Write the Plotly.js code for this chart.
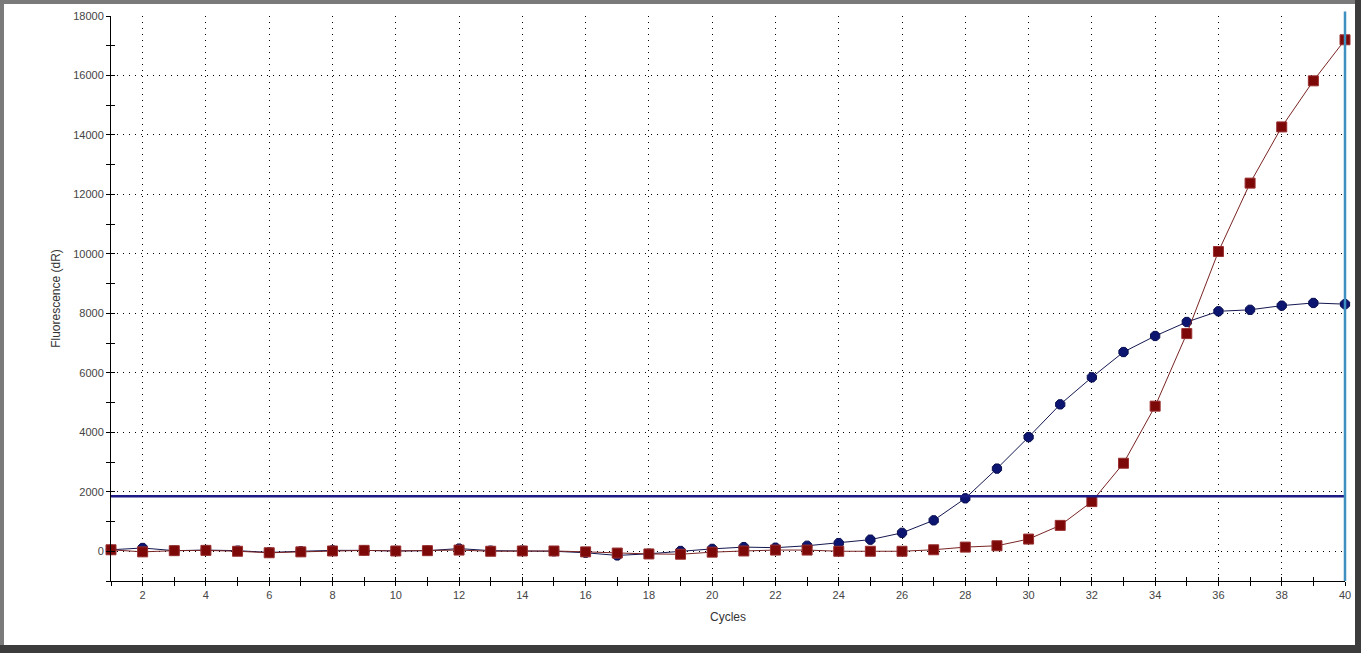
<!DOCTYPE html>
<html>
<head>
<meta charset="utf-8">
<script src="https://cdn.plot.ly/plotly-3.0.1.min.js"></script>
<style>
html,body{margin:0;padding:0;background:#7a7a7a;width:1361px;height:653px;overflow:hidden;}
#frame{position:absolute;left:0;top:0;width:1361px;height:653px;background:#3c3c3c;}
#frame:before{content:"";position:absolute;left:0;top:0;width:1355px;height:645px;background:#7a7a7a;}
#chart{position:absolute;left:4px;top:4px;width:1351px;height:641px;background:#fff;}
</style>
</head>
<body>
<div id="frame"></div>
<div id="chart"></div>
<script>
const cycles = [1,2,3,4,5,6,7,8,9,10,11,12,13,14,15,16,17,18,19,20,21,22,23,24,25,26,27,28,29,30,31,32,33,34,35,36,37,38,39,40];
const sampleBlue = [50,110,20,40,20,-40,0,30,30,10,20,90,20,20,0,-50,-140,-85,10,80,140,120,185,275,390,620,1040,1780,2780,3840,4940,5850,6700,7240,7710,8070,8120,8260,8350,8310];
const sampleRed = [50,-20,20,30,0,-50,-20,10,30,10,20,40,0,10,10,-20,-60,-90,-100,-30,10,40,40,0,0,0,50,140,185,410,870,1670,2960,4880,7320,10080,12380,14270,15820,17200];
const threshold = 1850;
const xRange = [1, 40];
const yRange = [-1000, 18000];

const traces = [
  {x: cycles, y: sampleBlue, type: 'scatter', mode: 'lines+markers',
   line: {color: '#141850', width: 1},
   marker: {symbol: 'octagon', size: 10, color: '#0c1670', line: {color: '#0a0f50', width: 1}},
   hoverinfo: 'x+y', showlegend: false, cliponaxis: false},
  {x: cycles, y: sampleRed, type: 'scatter', mode: 'lines+markers',
   line: {color: '#7a2424', width: 1},
   marker: {symbol: 'square', size: 10, color: '#7c0808', line: {color: '#9a3030', width: 1}},
   hoverinfo: 'x+y', showlegend: false, cliponaxis: false},
  {x: xRange, y: [threshold, threshold], type: 'scatter', mode: 'lines',
   line: {color: '#1c1c84', width: 2.5}, hoverinfo: 'skip', showlegend: false}
];

const axFont = {family: 'Liberation Sans, Arial, sans-serif', size: 11, color: '#444'};
const titleFont = {family: 'Liberation Sans, Arial, sans-serif', size: 12, color: '#333'};

const layout = {
  width: 1351, height: 641,
  margin: {l: 107, r: 10, t: 12, b: 64, pad: 0},
  paper_bgcolor: '#fff', plot_bgcolor: '#fff',
  font: axFont,
  xaxis: {
    range: xRange, dtick: 2, tick0: 0, ticks: 'outside', ticklen: 4, tickwidth: 1, tickcolor: '#000',
    minor: {dtick: 1, tick0: 0, ticks: 'outside', ticklen: 4, tickwidth: 1, tickcolor: '#000', showgrid: false},
    showline: true, linecolor: '#000', linewidth: 1,
    showgrid: true, gridcolor: '#000', gridwidth: 1, griddash: '1px,5px',
    zeroline: false, tickfont: axFont,
    title: {text: 'Cycles', font: titleFont, standoff: 12}
  },
  xaxis2: {
    range: xRange, overlaying: 'x', anchor: 'y', side: 'bottom', dtick: 1, tick0: 0,
    ticks: 'inside', ticklen: 4, tickwidth: 1, tickcolor: '#000',
    showticklabels: false, showgrid: false, zeroline: false, showline: false
  },
  yaxis: {
    range: yRange, dtick: 2000, tick0: 0, ticks: 'outside', ticklen: 4, tickwidth: 1, tickcolor: '#000',
    minor: {dtick: 1000, tick0: 0, ticks: 'outside', ticklen: 4, tickwidth: 1, tickcolor: '#000', showgrid: false},
    showline: true, linecolor: '#000', linewidth: 1,
    showgrid: true, gridcolor: '#000', gridwidth: 1, griddash: '1px,5px',
    zeroline: false, tickfont: axFont, tickformat: 'd',
    title: {text: 'Fluorescence (dR)', font: titleFont, standoff: 10}
  },
  yaxis2: {
    range: yRange, overlaying: 'y', anchor: 'x', side: 'left', dtick: 1000, tick0: 0,
    ticks: 'inside', ticklen: 4, tickwidth: 1, tickcolor: '#000',
    showticklabels: false, showgrid: false, zeroline: false, showline: false
  },
  shapes: [
    {type: 'line', xref: 'paper', yref: 'paper', x0: 1, x1: 1, y0: 0, y1: 1.008,
     line: {color: '#3d90c0', width: 2.5}, layer: 'above'}
  ]
};

traces.push({x: xRange, y: yRange, xaxis: 'x2', yaxis: 'y2', type: 'scatter', mode: 'none', hoverinfo: 'skip', showlegend: false});

Plotly.newPlot('chart', traces, layout, {displayModeBar: false, staticPlot: true});
</script>
</body>
</html>
